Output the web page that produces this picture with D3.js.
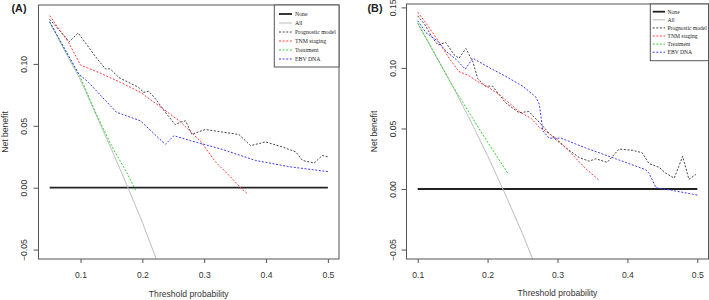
<!DOCTYPE html>
<html><head><meta charset="utf-8">
<script src="https://cdn.jsdelivr.net/npm/d3@7"></script>
<style>html,body{margin:0;padding:0;background:#fff;}svg{display:block;}</style>
</head><body>
<svg id="chart" width="709" height="300"></svg>
<script>
// ---------- DATA ----------
const xTicksA = [0.1, 0.2, 0.3, 0.4, 0.5];
const yTicksA = [-0.05, 0.00, 0.05, 0.10];
const xTicksB = [0.1, 0.2, 0.3, 0.4, 0.5];
const yTicksB = [-0.05, 0.00, 0.05, 0.10, 0.15];
const legendLabels = ["None", "All", "Prognostic model", "TNM staging", "Treatment", "EBV DNA"];

// Panel A  [threshold, net benefit]
const noneA = [[0.05, 0], [0.5, 0]];
const allA = [[0.05,0.134],[0.075,0.110],[0.1,0.087],[0.125,0.059],[0.15,0.031],[0.175,0.002],[0.2,-0.028],[0.225,-0.061]];
const progA = [[0.05,0.136],[0.082,0.118],[0.096,0.125],[0.108,0.117],[0.124,0.106],[0.140,0.096],[0.148,0.096],[0.162,0.089],
  [0.178,0.085],[0.194,0.081],[0.202,0.077],[0.210,0.078],[0.221,0.072],[0.237,0.061],[0.253,0.051],[0.262,0.053],
  [0.270,0.054],[0.280,0.043],[0.290,0.045],[0.302,0.047],[0.329,0.045],[0.356,0.043],[0.375,0.034],[0.399,0.037],
  [0.426,0.033],[0.448,0.029],[0.459,0.022],[0.478,0.020],[0.491,0.026],[0.500,0.025]];
const tnmA = [[0.05,0.139],[0.081,0.117],[0.10,0.099],[0.13,0.093],[0.165,0.085],[0.197,0.077],[0.23,0.065],
  [0.262,0.053],[0.295,0.037],[0.318,0.021],[0.340,0.010],[0.361,-0.001],[0.370,-0.005]];
const treatA = [[0.05,0.134],[0.075,0.111],[0.1,0.089],[0.125,0.060],[0.15,0.034],[0.175,0.012],[0.189,-0.002]];
const ebvA = [[0.05,0.134],[0.097,0.092],[0.113,0.085],[0.158,0.061],[0.197,0.054],[0.237,0.035],[0.251,0.042],
  [0.278,0.038],[0.329,0.031],[0.383,0.022],[0.437,0.017],[0.5,0.013]];

// Panel B
const noneB = [[0.1, 0], [0.5, 0]];
const allB = [[0.1,0.137],[0.125,0.111],[0.15,0.085],[0.175,0.057],[0.2,0.0275],[0.225,-0.004],[0.25,-0.037],[0.275,-0.073]];
const progB = [[0.100,0.143],[0.110,0.136],[0.121,0.125],[0.129,0.119],[0.140,0.121],[0.152,0.111],[0.159,0.108],
  [0.169,0.116],[0.179,0.105],[0.186,0.091],[0.197,0.085],[0.207,0.085],[0.226,0.071],[0.245,0.063],[0.259,0.064],
  [0.274,0.055],[0.293,0.043],[0.312,0.034],[0.331,0.026],[0.345,0.023],[0.355,0.025],[0.371,0.022],[0.388,0.033],
  [0.407,0.032],[0.421,0.030],[0.431,0.021],[0.445,0.018],[0.455,0.013],[0.467,0.009],[0.479,0.027],[0.488,0.008],[0.498,0.012]];
const tnmB = [[0.100,0.146],[0.112,0.137],[0.131,0.121],[0.145,0.108],[0.159,0.097],[0.172,0.094],[0.188,0.088],
  [0.201,0.084],[0.217,0.078],[0.245,0.064],[0.263,0.058],[0.274,0.051],[0.298,0.042],[0.317,0.031],[0.340,0.017],[0.360,0.007]];
const treatB = [[0.1,0.137],[0.125,0.111],[0.15,0.085],[0.162,0.074],[0.193,0.045],[0.229,0.013]];
const ebvB = [[0.100,0.139],[0.112,0.129],[0.129,0.122],[0.140,0.114],[0.155,0.107],[0.168,0.099],[0.179,0.108],
  [0.203,0.100],[0.226,0.093],[0.250,0.085],[0.269,0.076],[0.274,0.070],[0.279,0.048],[0.288,0.042],[0.305,0.042],
  [0.340,0.034],[0.383,0.025],[0.426,0.016],[0.431,0.013],[0.441,0.001],[0.463,-0.001],[0.500,-0.005]];

// ---------- STYLES ----------
const styles = [
  {color:"#222", width:1.8, dash:null},
  {color:"#bdbdbd", width:1, dash:null},
  {color:"#444", width:1, dash:"2,1.6"},
  {color:"#ff3c3c", width:1, dash:"2,1.6"},
  {color:"#2fd42f", width:1, dash:"2,1.6"},
  {color:"#3c3cff", width:1, dash:"2,1.6"}
];

const svg = d3.select("#chart");
const FONT = "'Liberation Sans', Arial, sans-serif";

function panel(cfg) {
  const x = d3.scaleLinear().domain(cfg.xDomain).range([cfg.left, cfg.right]);
  const y = d3.scaleLinear().domain(cfg.yDomain).range([cfg.bottom, cfg.top]);
  const g = svg.append("g");
  const clipId = "clip" + cfg.id;
  svg.append("defs").append("clipPath").attr("id", clipId)
    .append("rect").attr("x", cfg.left).attr("y", cfg.top)
    .attr("width", cfg.right - cfg.left).attr("height", cfg.bottom - cfg.top);

  const line = d3.line().x(d => x(d[0])).y(d => y(d[1]));
  const lines = g.append("g").attr("clip-path", `url(#${clipId})`);
  cfg.series.forEach((s, i) => {
    const st = styles[i];
    lines.append("path").datum(s).attr("d", line)
      .attr("fill", "none").attr("stroke", st.color)
      .attr("stroke-width", st.width)
      .attr("stroke-dasharray", st.dash);
  });
  // box
  g.append("rect").attr("x", cfg.left).attr("y", cfg.top)
    .attr("width", cfg.right - cfg.left).attr("height", cfg.bottom - cfg.top)
    .attr("fill", "none").attr("stroke", "#555").attr("stroke-width", 1);

  // x axis
  const xa = g.append("g").attr("transform", `translate(0,${cfg.bottom})`)
    .call(d3.axisBottom(x).tickValues(cfg.xTicks).tickSize(4).tickSizeOuter(0).tickFormat(d3.format(".1f")));
  xa.select(".domain").remove();
  xa.selectAll("line").attr("stroke", "#555");
  xa.selectAll("text").attr("font-family", FONT).attr("font-size", 8.6).attr("fill", "#333")
    .attr("dy", null).attr("y", 18.5);

  // y axis
  const ya = g.append("g").attr("transform", `translate(${cfg.left},0)`)
    .call(d3.axisLeft(y).tickValues(cfg.yTicks).tickSize(5).tickSizeOuter(0).tickFormat(d3.format(".2f")));
  ya.select(".domain").remove();
  ya.selectAll("line").attr("stroke", "#555");
  ya.selectAll("text").attr("font-family", FONT).attr("font-size", 8.6).attr("fill", "#333")
    .attr("x", null).attr("dy", null).attr("text-anchor", "middle")
    .attr("transform", `translate(${cfg.yLabX - cfg.left},0) rotate(-90)`);

  // axis titles
  g.append("text").attr("x", (cfg.left + cfg.right) / 2).attr("y", cfg.xTitleY)
    .attr("text-anchor", "middle").attr("font-family", FONT).attr("font-size", 8.6).attr("fill", "#333")
    .text("Threshold probability");
  g.append("text").attr("transform", `translate(${cfg.yTitleX},${(cfg.top + cfg.bottom) / 2}) rotate(-90)`)
    .attr("text-anchor", "middle").attr("font-family", FONT).attr("font-size", 8.6).attr("fill", "#333")
    .text("Net benefit");
  // panel label
  g.append("text").attr("x", cfg.labX).attr("y", 11.5)
    .attr("font-family", FONT).attr("font-size", 10.8).attr("font-weight", "bold").attr("fill", "#222")
    .text(cfg.label);

  // legend
  const L = cfg.legend;
  const lg = g.append("g");
  lg.append("rect").attr("x", L.x0).attr("y", cfg.top).attr("width", cfg.right - L.x0).attr("height", L.y1 - cfg.top)
    .attr("fill", "#fff").attr("stroke", "#555").attr("stroke-width", 1);
  legendLabels.forEach((lab, i) => {
    const yy = L.row0 + i * L.step;
    const st = styles[i];
    lg.append("line").attr("x1", L.lx1).attr("x2", L.lx2).attr("y1", yy).attr("y2", yy)
      .attr("stroke", st.color).attr("stroke-width", st.width).attr("stroke-dasharray", st.dash);
    lg.append("text").attr("x", L.tx).attr("y", yy).attr("dy", "0.33em")
      .attr("font-family", "'Liberation Serif', 'Times New Roman', serif").attr("font-size", L.fs).attr("fill", "#222")
      .text(lab);
  });
}

panel({
  id: "A", label: "(A)", labX: 11.5,
  left: 38.5, right: 339, top: 5, bottom: 259,
  xDomain: [0.032, 0.518], yDomain: [-0.0576, 0.1476],
  xTicks: xTicksA, yTicks: yTicksA,
  yLabX: 26.5, yTitleX: 7.5, xTitleY: 296.5,
  series: [noneA, allA, progA, tnmA, treatA, ebvA],
  legend: {x0: 274.3, y1: 67, row0: 14, step: 9, lx1: 279, lx2: 292, tx: 295, fs: 5.8}
});
panel({
  id: "B", label: "(B)", labX: 367.5,
  left: 406.5, right: 708.5, top: 4, bottom: 259,
  xDomain: [0.084, 0.516], yDomain: [-0.0578, 0.1528],
  xTicks: xTicksB, yTicks: yTicksB,
  yLabX: 395.7, yTitleX: 377, xTitleY: 295.5,
  series: [noneB, allB, progB, tnmB, treatB, ebvB],
  legend: {x0: 650.3, y1: 60.7, row0: 11.7, step: 8.1, lx1: 652.7, lx2: 665, tx: 667.5, fs: 5.6}
});
</script>
</body></html>
